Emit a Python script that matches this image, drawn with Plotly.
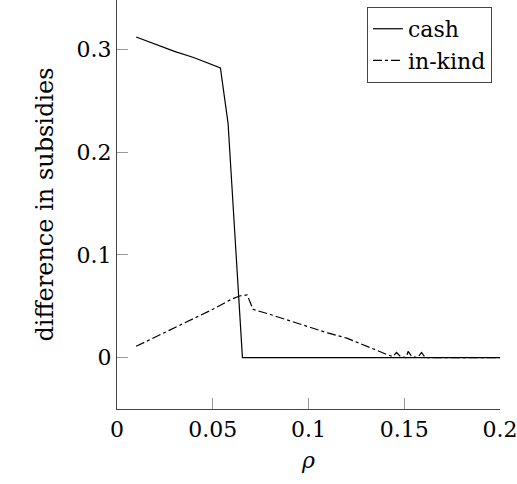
import plotly.graph_objects as go

cash_x = [0.01, 0.02, 0.03, 0.04, 0.05, 0.054, 0.058, 0.0655, 0.07, 0.1, 0.15, 0.2]
cash_y = [0.312, 0.305, 0.298, 0.292, 0.285, 0.282, 0.228, 0.0, 0.0, 0.0, 0.0, 0.0]

inkind_x = [0.01, 0.02, 0.03, 0.04, 0.05, 0.06, 0.064, 0.068, 0.071, 0.08, 0.09, 0.1, 0.11, 0.12, 0.13, 0.141,
            0.144, 0.146, 0.148, 0.151, 0.152, 0.154, 0.157, 0.159, 0.161, 0.17, 0.18, 0.19, 0.2]
inkind_y = [0.011, 0.02, 0.029, 0.038, 0.047, 0.057, 0.06, 0.061, 0.047, 0.042, 0.036, 0.03, 0.024, 0.019, 0.011, 0.003,
            0.001, 0.005, 0.001, 0.0, 0.006, 0.001, 0.0, 0.005, 0.0, 0.0, 0.0, 0.0, 0.0]

x_ticks = [0, 0.05, 0.1, 0.15, 0.2]
x_labels = ["0", "0.05", "0.1", "0.15", "0.2"]
y_ticks = [0, 0.1, 0.2, 0.3]
y_labels = ["0", "0.1", "0.2", "0.3"]

font = "DejaVu Serif"
fs = 22
fig = go.Figure()
fig.add_trace(go.Scatter(x=cash_x, y=cash_y, mode="lines", name="cash",
                         line=dict(color="black", width=1.2)))
fig.add_trace(go.Scatter(x=inkind_x, y=inkind_y, mode="lines", name="in-kind",
                         line=dict(color="black", width=1.2, dash="dashdot")))

axis_common = dict(showline=True, linecolor="#444", linewidth=1.2, mirror=False,
                   showgrid=False, zeroline=False, ticks="inside", ticklen=11,
                   tickcolor="#999", tickwidth=1, ticklabeloverflow="allow",
                   tickfont=dict(family=font, size=fs, color="black"))
fig.update_layout(
    template="none",
    width=517, height=484,
    margin=dict(l=117, r=17, t=0, b=75),
    plot_bgcolor="white", paper_bgcolor="white",
    font=dict(family=font, size=fs, color="black"),
    showlegend=True,
    legend=dict(x=0.979, y=0.983, xanchor="right", yanchor="top",
                bordercolor="#444", borderwidth=1, bgcolor="white",
                font=dict(family=font, size=fs, color="black"),
                tracegroupgap=0, itemwidth=30),
    xaxis=dict(range=[0, 0.2], tickvals=x_ticks, ticktext=x_labels,
               title=dict(text="<i>ρ</i>", font=dict(family=font, size=fs, color="black"), standoff=12),
               **axis_common),
    yaxis=dict(range=[-0.05, 0.348], tickvals=y_ticks, ticktext=y_labels,
               title=dict(text="difference in subsidies", font=dict(family=font, size=24, color="black"), standoff=16),
               **axis_common),
)
fig.write_html("out.html")
